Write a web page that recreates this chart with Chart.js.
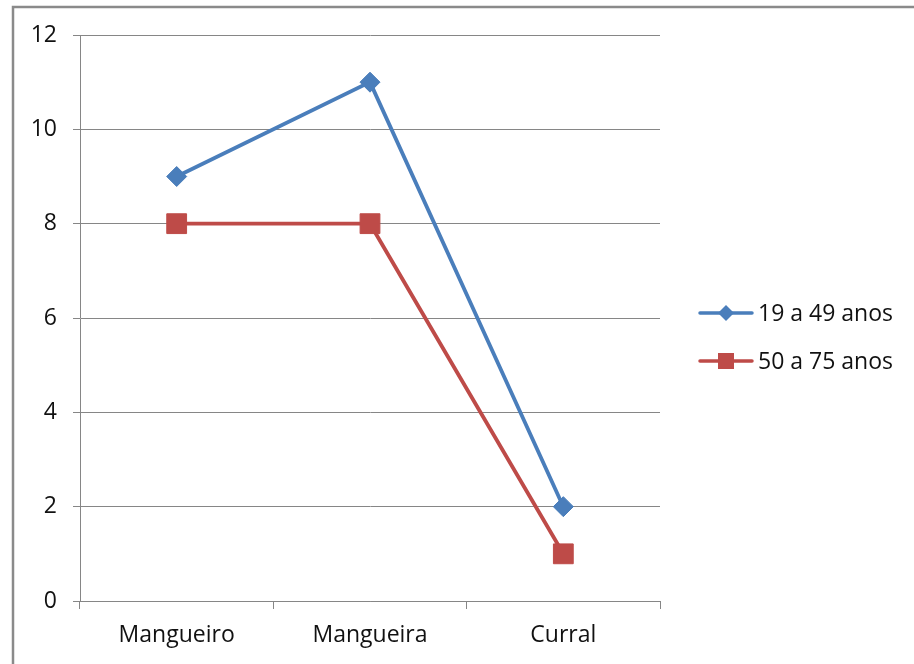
<!DOCTYPE html>
<html>
<head>
<meta charset="utf-8">
<script src="https://cdn.jsdelivr.net/npm/chart.js@4/dist/chart.umd.min.js"></script>
<style>
  html, body { margin: 0; padding: 0; background: #ffffff; }
  #wrap { position: relative; width: 914px; height: 664px; }
</style>
</head>
<body>
<div id="wrap"><canvas id="c" width="914" height="664"></canvas></div>
<script>
const categories = ['Mangueiro', 'Mangueira', 'Curral'];
const seriesNames = ['19 a 49 anos', '50 a 75 anos'];
const young = [9, 11, 2];
const older = [8, 8, 1];
const yTicks = [0, 2, 4, 6, 8, 10, 12];

const BLUE = '#4A7EBB';
const RED = '#BE4B48';
const GRID = '#868686';
const TEXT = '#111111';
const FONT = '"Open Sans", "Noto Sans", sans-serif';
const FONT_SIZE = 23;

// Gray frame around the chart object
const framePlugin = {
  id: 'frame',
  beforeDraw(chart) {
    const ctx = chart.ctx;
    ctx.save();
    ctx.fillStyle = '#ffffff';
    ctx.fillRect(0, 0, chart.width, chart.height);
    ctx.strokeStyle = '#8a8a8a';
    ctx.lineWidth = 2.5;
    ctx.strokeRect(13, 7, 1000, 1000);
    ctx.restore();
  }
};

// Legend: line segment with marker, then label
const sideLegend = {
  id: 'sideLegend',
  afterDraw(chart) {
    const ctx = chart.ctx;
    const x0 = 700, x1 = 752, ys = [313, 361];
    chart.data.datasets.forEach((ds, i) => {
      const y = ys[i];
      ctx.save();
      ctx.strokeStyle = ds.borderColor;
      ctx.lineWidth = 3.5;
      ctx.lineCap = 'round';
      ctx.beginPath();
      ctx.moveTo(x0, y);
      ctx.lineTo(x1, y);
      ctx.stroke();
      ctx.fillStyle = ds.pointBackgroundColor;
      const cx = (x0 + x1) / 2;
      ctx.beginPath();
      if (ds.pointStyle === 'rectRot') {
        ctx.moveTo(cx, y - 8); ctx.lineTo(cx + 8, y); ctx.lineTo(cx, y + 8); ctx.lineTo(cx - 8, y);
      } else {
        ctx.rect(cx - 8, y - 8, 16, 16);
      }
      ctx.closePath();
      ctx.fill();
      ctx.fillStyle = TEXT;
      ctx.font = FONT_SIZE + 'px ' + FONT;
      ctx.textBaseline = 'middle';
      ctx.textAlign = 'left';
      ctx.fillText(ds.label, 758, y + 1);
      ctx.restore();
    });
  }
};

new Chart(document.getElementById('c'), {
  type: 'line',
  data: {
    labels: categories,
    datasets: [
      {
        label: seriesNames[0],
        data: young,
        borderColor: BLUE,
        backgroundColor: BLUE,
        pointBackgroundColor: BLUE,
        pointBorderColor: BLUE,
        borderWidth: 3.8,
        pointStyle: 'rectRot',
        pointRadius: 10,
        pointBorderWidth: 1,
        tension: 0
      },
      {
        label: seriesNames[1],
        data: older,
        borderColor: RED,
        backgroundColor: RED,
        pointBackgroundColor: RED,
        pointBorderColor: RED,
        borderWidth: 3.8,
        pointStyle: 'rect',
        pointRadius: 14,
        pointBorderWidth: 1,
        tension: 0
      }
    ]
  },
  options: {
    responsive: false,
    animation: false,
    devicePixelRatio: 1,
    layout: { padding: { left: 0, right: 254, top: 35, bottom: 0 } },
    plugins: {
      legend: { display: false },
      tooltip: { enabled: false }
    },
    scales: {
      x: {
        type: 'category',
        offset: true,
        grid: {
          offset: true,
          drawOnChartArea: false,
          drawTicks: true,
          tickLength: 8,
          color: GRID,
          lineWidth: 1
        },
        border: { display: true, color: GRID, width: 1 },
        ticks: {
          color: TEXT,
          font: { family: FONT, size: FONT_SIZE },
          padding: 13,
          maxRotation: 0
        },
        afterFit(scale) { scale.height = 63; }
      },
      y: {
        min: 0,
        max: 12,
        afterBuildTicks(scale) { scale.ticks = yTicks.map(v => ({ value: v })); },
        grid: {
          color: GRID,
          lineWidth: 1,
          drawTicks: true,
          tickLength: 7
        },
        border: { display: true, color: GRID, width: 1 },
        ticks: {
          color: TEXT,
          font: { family: FONT, size: FONT_SIZE },
          padding: 16
        },
        afterFit(scale) { scale.width = 80; }
      }
    }
  },
  plugins: [framePlugin, sideLegend]
});
</script>
</body>
</html>
